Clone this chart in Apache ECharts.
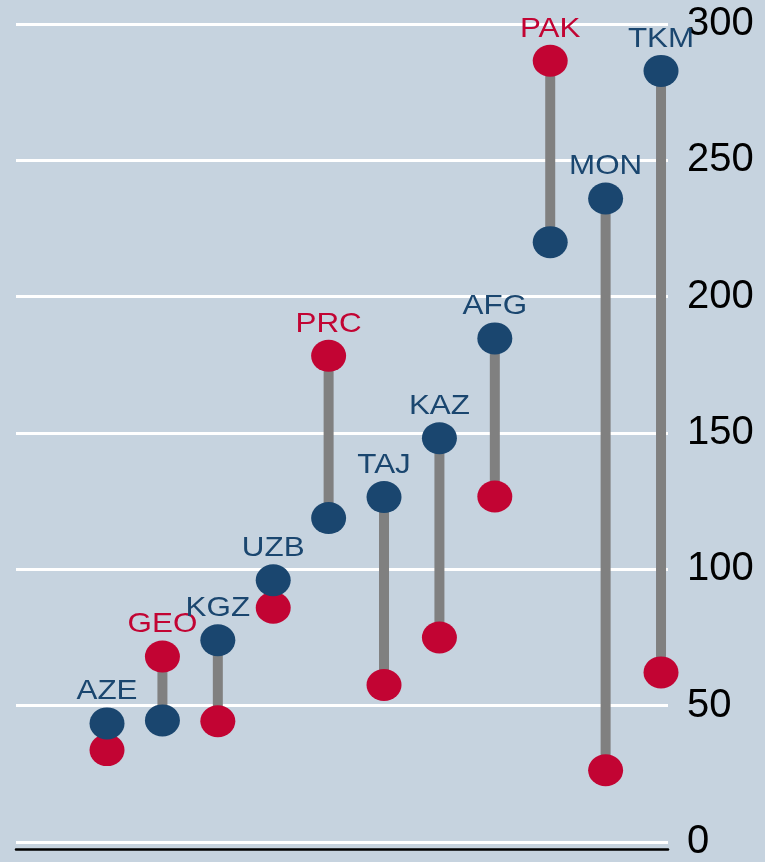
<!DOCTYPE html>
<html>
<head>
<meta charset="utf-8">
<script src="https://cdn.jsdelivr.net/npm/echarts@6/dist/echarts.min.js"></script>
<style>
    html, body { margin: 0; padding: 0; background: #c6d3df; }
    #chart { width: 765px; height: 862px; }
</style>
</head>
<body>
<div id="chart"></div>
<script>
// country codes, left to right
const countries = ['AZE', 'GEO', 'KGZ', 'UZB', 'PRC', 'TAJ', 'KAZ', 'AFG', 'PAK', 'MON', 'TKM'];
// blue dots
const blueValues = [43.5, 44.6, 74, 96, 118.8, 126.5, 148.1, 184.7, 220, 236, 282.8];
// red dots
const redValues = [33.7, 68, 44.3, 85.9, 178.3, 57.6, 75, 126.7, 286.5, 26.3, 62.2];
// y axis ticks
const yTicks = [0, 50, 100, 150, 200, 250, 300];

const BLUE = '#1a466f';
const RED = '#c20433';

let myChart = echarts.init(document.getElementById('chart'));

const pairData = countries.map((c, i) => [i, blueValues[i], redValues[i]]);

const option = {
    animation: false,
    backgroundColor: '#c6d3df',
    grid: {
        left: 16,
        right: 97,
        top: 24,
        bottom: 18
    },
    xAxis: {
        type: 'value',
        min: -1.643,
        max: 10.126,
        axisLine: { show: true, onZero: false, lineStyle: { color: '#000', width: 2.5 } },
        offset: 7,
        axisTick: { show: false },
        axisLabel: { show: false },
        splitLine: { show: false }
    },
    yAxis: {
        type: 'value',
        position: 'right',
        min: yTicks[0],
        max: yTicks[yTicks.length - 1],
        interval: 50,
        axisLine: { show: false },
        axisTick: { show: false },
        axisLabel: {
            margin: 19,
            color: '#000',
            fontSize: 40,
            fontFamily: '"Liberation Sans", Arial, sans-serif'
        },
        splitLine: { show: true, lineStyle: { color: '#ffffff', width: 3 } }
    },
    series: [
        {
            // gray connectors
            type: 'custom',
            z: 1,
            encode: { x: 0, y: [1, 2] },
            data: pairData,
            renderItem: function (params, api) {
                const p1 = api.coord([api.value(0), api.value(1)]);
                const p2 = api.coord([api.value(0), api.value(2)]);
                return {
                    type: 'line',
                    shape: { x1: p1[0], y1: p1[1], x2: p2[0], y2: p2[1] },
                    style: { stroke: '#808080', lineWidth: 10 }
                };
            }
        },
        {
            type: 'scatter',
            z: 2,
            symbol: 'circle',
            symbolSize: [35, 32],
            itemStyle: { color: RED, opacity: 1 },
            data: redValues.map((v, i) => [i, v])
        },
        {
            type: 'scatter',
            z: 3,
            symbol: 'circle',
            symbolSize: [35, 32],
            itemStyle: { color: BLUE, opacity: 1 },
            data: blueValues.map((v, i) => [i, v])
        },
        {
            // labels above the higher dot
            type: 'custom',
            z: 4,
            encode: { x: 0, y: [1, 2] },
            data: pairData,
            renderItem: function (params, api) {
                const i = params.dataIndex;
                const b = api.value(1);
                const r = api.value(2);
                const top = Math.max(b, r);
                const p = api.coord([api.value(0), top]);
                return {
                    type: 'text',
                    x: p[0],
                    y: p[1] - 32,
                    scaleX: 1.12,
                    style: {
                        text: countries[i],
                        fill: b >= r ? BLUE : RED,
                        font: '28px "Liberation Sans", Arial, sans-serif',
                        align: 'center',
                        verticalAlign: 'middle'
                    }
                };
            }
        }
    ]
};
myChart.setOption(option);
</script>
</body>
</html>
